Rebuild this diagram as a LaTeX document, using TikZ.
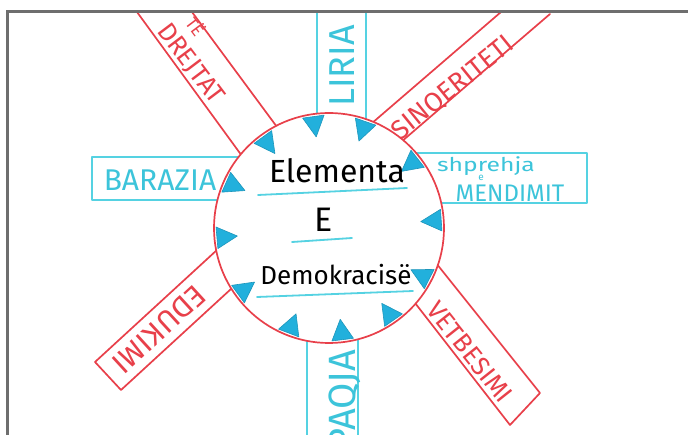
\documentclass[tikz,border=0pt]{standalone}
\usepackage{fontspec}
\setmainfont{Fira Sans}
\usepackage{graphicx}
\usetikzlibrary{calc}
\definecolor{mred}{HTML}{E8404A}
\definecolor{mcyan}{HTML}{55D2E2}
\definecolor{tcyan}{HTML}{3CC4DA}
\definecolor{trifill}{HTML}{22B0DC}
\definecolor{framegray}{HTML}{6E6E6E}
\newcommand{\fsz}[1]{\fontsize{#1}{#1}\selectfont}
\begin{document}
\begin{tikzpicture}[x=1pt,y=-1pt,
  redline/.style={draw=mred,line width=1.7pt,line cap=round,line join=round},
  cyanline/.style={draw=mcyan,line width=1.7pt,line cap=round,line join=round},
  redlabel/.style={text=mred,inner sep=0pt},
  cyanlabel/.style={text=tcyan,inner sep=0pt},
  inlabel/.style={text=black,inner sep=0pt},
  trimark/.style={fill=trifill,draw=trifill!85!black,line width=0.6pt,line join=round},
  uline/.style={draw=mcyan,line width=1.8pt,line cap=round}]
\useasboundingbox (0,0) rectangle (688,435);
\fill[white] (0,0) rectangle (688,435);
\coordinate (C) at (329,228);
% bands
\draw[redline] (137,12) -- (277,204);
\draw[redline] (192,12) -- (328,196);
\draw[cyanline] (317,12) -- (317,200);
\draw[cyanline] (366,12) -- (366,200);
\draw[redline] (501,12) -- (328,161);
\draw[redline] (550,14) -- (358,179);
\draw[cyanline] (300,157) -- (92,157) -- (92,200) -- (300,200);
\draw[cyanline] (360,153) -- (587,153) -- (587,203) -- (360,203);
\draw[redline] (242,227) -- (95,362) -- (121,390) -- (268,255);
\draw[redline] (400,218) -- (540,393) -- (510,425) -- (380,258);
\draw[cyanline] (307,300) -- (307,437);
\draw[cyanline] (358,300) -- (358,437);
% labels
\node[redlabel,rotate=-53] (drejtat) at (190,64) {\fsz{26}DREJTAT};
\node[redlabel,rotate=-53] (te) at (196,26) {\fsz{17}TË};
\node[cyanlabel,rotate=90] (liria) at (342,66) {\fsz{36}LIRIA};
\node[redlabel,rotate=39] (sinq) at (453,88) {\fsz{27}SINQERITETI};
\node[cyanlabel] (barazia) at (160,180) {\fsz{30}BARAZIA};
\node[cyanlabel] (shp) at (486,166) {\fsz{19}\scalebox{1.3}[1]{shprehja}};
\node[cyanlabel] (ee) at (481,178) {\fsz{10}e};
\node[cyanlabel] (mend) at (510,193) {\fsz{24}MENDIMIT};
\node[redlabel,rotate=-137.5] (edu) at (159,329) {\fsz{30}EDUKIMI};
\node[redlabel,rotate=-51.5] (vet) at (470,352) {\fsz{26}VETBESIMI};
\node[cyanlabel,rotate=90,anchor=east] (paqja) at (345,350) {\fsz{38}PAQJA};
% circle
\draw[redline,fill=white] (C) circle (115pt);
\foreach \a in {-126,-98,-71,-38,-4,27,55,83,111,144,175,204} {
  \filldraw[trimark] ($(C)+(\a-5.5:113)$) -- ($(C)+(\a:92)$) -- ($(C)+(\a+5.5:113)$) -- cycle;
}
\node[inlabel] (elem) at (337,171) {\fsz{32}Elementa};
\draw[uline] (258,195) -- (407,188);
\node[inlabel] (ecap) at (324,220) {\fsz{34}E};
\draw[uline] (292,242) -- (352,238);
\node[inlabel] (dem) at (336,275) {\fsz{26}Demokracisë};
\draw[uline] (257,297) -- (413,291);
% frame
\draw[framegray,line width=2.7pt] (7.3,437) -- (7.3,11.3) -- (690,11.3);
\end{tikzpicture}
\end{document}
